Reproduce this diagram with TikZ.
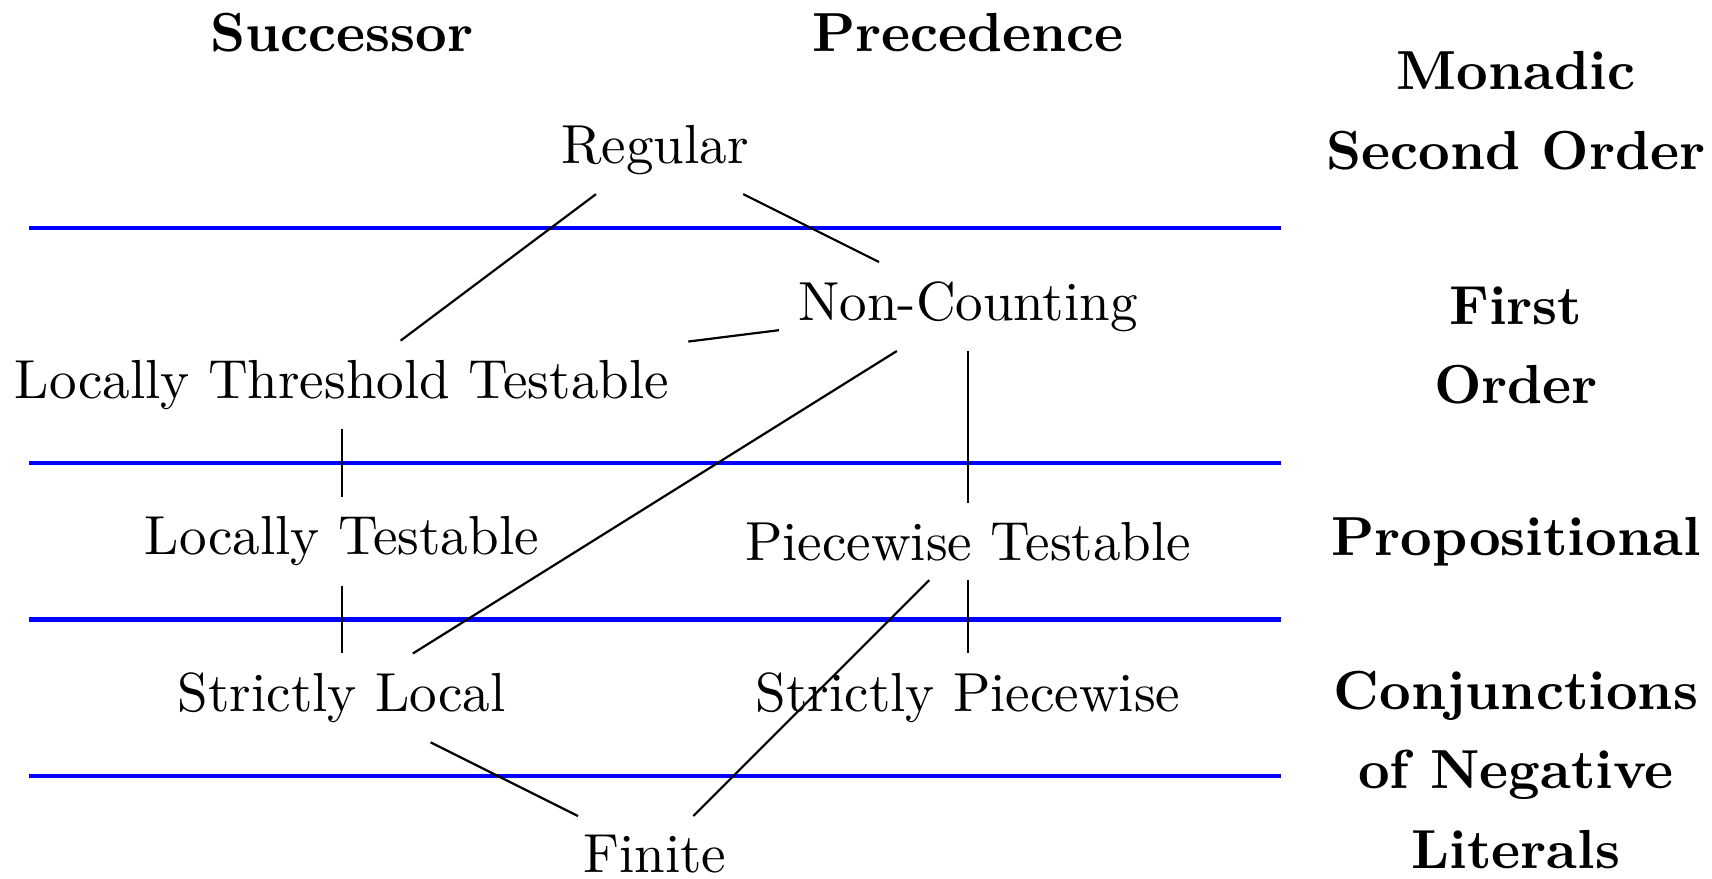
\documentclass[tikz,border=0pt]{standalone}
\begin{document}
\begin{tikzpicture}[
  lang/.style={inner sep=0.333em},
  hdr/.style={font=\bfseries},
  lvl/.style={font=\bfseries, align=center},
  edge/.style={draw=black, line width=0.4pt},
  sep/.style={draw=blue, line width=0.8pt}
]
\useasboundingbox (-2.183,-0.652) rectangle (8.752,4.958);
% column headers
\node[hdr] (succ) at (0,4.75) {Successor};
\node[hdr] (prec) at (4,4.75) {Precedence};
% level labels
\node[lvl] (mso) at (7.5,4.25) {Monadic\\[2.4pt]Second Order};
\node[lvl] (fo) at (7.5,2.75) {First\\[2.4pt]Order};
\node[lvl] (prop) at (7.5,1.5) {Propositional};
\node[lvl] (cnl) at (7.5,0.04) {Conjunctions\\[2.4pt]of Negative\\[2.4pt]Literals};
% separators
\coordinate (s1l) at (-2,3.5); \coordinate (s1r) at (6,3.5);
\coordinate (s2l) at (-2,2);   \coordinate (s2r) at (6,2);
\coordinate (s3l) at (-2,1);   \coordinate (s3r) at (6,1);
\coordinate (s4l) at (-2,0);   \coordinate (s4r) at (6,0);
\draw[sep] (s1l) -- (s1r);
\draw[sep] (s2l) -- (s2r);
\draw[sep] (s3l) -- (s3r);
\draw[sep] (s4l) -- (s4r);
% classes
\node[lang] (reg) at (2,4) {Regular};
\node[lang] (nc) at (4,3) {Non-Counting};
\node[lang] (ltt) at (0,2.5) {Locally Threshold Testable};
\node[lang] (lt) at (0,1.5) {Locally Testable};
\node[lang] (pt) at (4,1.5) {Piecewise Testable};
\node[lang] (sl) at (0,0.5) {Strictly Local};
\node[lang] (sp) at (4,0.5) {Strictly Piecewise};
\node[lang] (fin) at (2,-0.5) {Finite};
% inclusions
\draw[edge] (reg) -- (ltt);
\draw[edge] (reg) -- (nc);
\draw[edge] (nc) -- (ltt);
\draw[edge] (nc) -- (sl);
\draw[edge] (nc) -- (pt);
\draw[edge] (ltt) -- (lt);
\draw[edge] (lt) -- (sl);
\draw[edge] (pt) -- (fin);
\draw[edge] (pt) -- (sp);
\draw[edge] (sl) -- (fin);
\end{tikzpicture}
\end{document}
